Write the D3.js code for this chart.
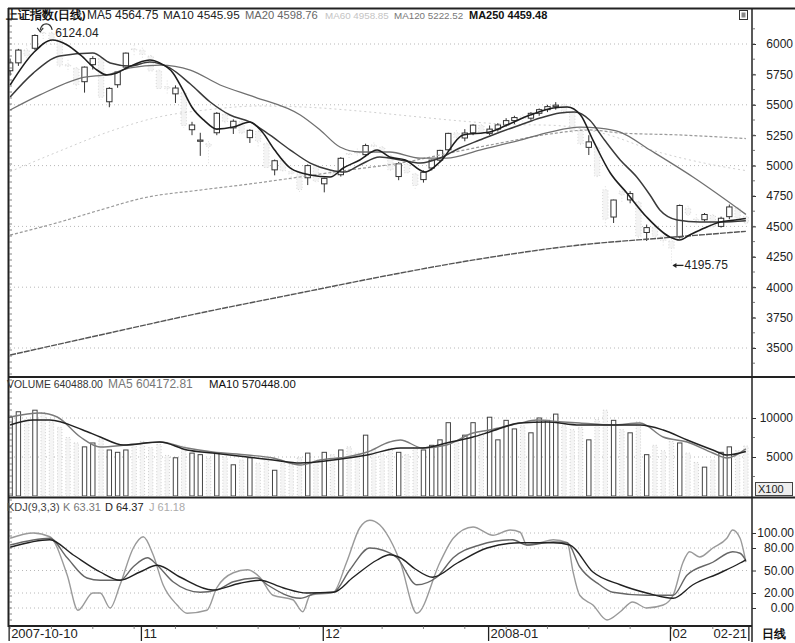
<!DOCTYPE html>
<html><head><meta charset="utf-8">
<script src="https://cdn.jsdelivr.net/npm/d3@7"></script>
<style>
html,body{margin:0;padding:0;background:#fff;}
svg{display:block;font-family:"Liberation Sans",Arial,sans-serif;}
</style></head><body>
<svg id="chart" width="795" height="643"></svg>
<script>
// ---------- DATA ----------
const open  = [5780,5845,5950,5965,6095,6090,6036,5830,5800,5690,5830,5880,5525,5665,5810,5960,5950,5900,5780,5650,5590,5600,5295,5200,5180,5270,5420,5310,5360,5230,5280,5180,4965,5040,4950,4930,4900,5000,4850,4950,4925,5100,5110,5090,5170,5150,5080,4910,5010,4930,4885,4980,5045,5130,5270,5227,5270,5330,5265,5300,5335,5370,5400,5390,5430,5460,5485,5500,5440,5290,5150,5150,4800,4577,4790,4718,4700,4450,4490,4420,4380,4413,4650,4560,4555,4590,4500,4580,4650,4580];
const high  = [5880,5960,5990,6080,6124.04,6100,6040,5870,5810,5815,5900,5890,5645,5775,5930,5990,5970,5910,5790,5700,5660,5610,5360,5270,5200,5440,5430,5380,5370,5300,5290,5190,5050,5060,4990,4940,5010,5010,4900,4960,5070,5120,5140,5180,5190,5160,5090,5030,5020,4940,4960,5050,5130,5270,5290,5300,5340,5340,5330,5350,5390,5410,5420,5440,5470,5500,5522,5510,5450,5300,5250,5160,4830,4720,4810,4790,4710,4515,4500,4450,4400,4680,4670,4600,4610,4600,4580,4680,4660,4600];
const low   = [5740,5820,5880,5950,6040,5980,5800,5770,5620,5600,5790,5540,5480,5640,5800,5900,5880,5760,5620,5580,5515,5310,5250,5080,5020,5250,5330,5260,5250,5186,5150,4970,4920,4940,4880,4780,4840,4860,4780,4890,4910,5050,5080,5070,5120,5080,4950,4880,4920,4810,4860,4960,5030,5120,5190,5200,5250,5240,5250,5280,5320,5340,5350,5370,5410,5440,5460,5420,5270,5160,5087,4900,4500,4528,4700,4690,4400,4380,4380,4330,4195.75,4400,4570,4500,4540,4480,4490,4560,4540,4500];
const close = [5845,5950,5903,6070,6092,6036,5825,5818,5667,5810,5880,5562,5635,5770,5925,5950,5914,5778,5634,5633,5638,5330,5334,5210,5158,5430,5362,5365,5269,5290,5200,4984,5040,4958,4932,4803,5000,4871,4895,4931,5060,5091,5101,5165,5158,5107,4966,5015,4941,4836,4945,5045,5125,5265,5232,5268,5333,5262,5300,5335,5370,5395,5386,5430,5460,5485,5497,5443,5290,5180,5195,4914,4560,4717,4761,4770,4419,4490,4420,4383,4320,4672,4600,4552,4598,4497,4567,4660,4570,4530];
const volume = [10100,10800,9800,11000,10700,9500,8800,7500,6800,6300,6800,7300,5900,5600,5900,6600,7000,6200,6600,5200,4900,6400,5500,5300,4800,5500,5000,4000,4600,4900,4200,5100,3300,4200,4000,4900,5500,4600,5600,5300,5900,6300,5500,7800,6000,5400,6100,5600,5300,6200,5900,6500,7200,9400,7000,7800,9400,8000,10100,7200,9700,8600,9000,8100,10000,9700,10500,9000,8500,8800,7200,9800,11000,9700,8500,8100,9500,5300,6500,5800,7000,6800,5500,4300,3700,4600,5600,6300,5800,6404.88];

// moving-average lines: [day index, value]
const ma5   = [[0,5663],[2.8,5926],[5.1,6033],[6.9,5992],[8.5,5910],[10.5,5786],[11.7,5745],[12.9,5762],[14.1,5803],[16.9,5868],[18.1,5844],[19.7,5762],[20.9,5622],[22,5480],[23.5,5370],[25,5300],[27,5317],[29,5359],[30.5,5276],[32,5128],[33.9,4980],[36.3,4923],[38.7,4906],[40.3,4980],[42.3,5046],[44.4,5128],[45.9,5071],[47.8,5046],[50.2,4947],[52,5030],[54.8,5252],[58,5276],[60.1,5334],[62.9,5416],[65.7,5474],[67.4,5482],[69,5416],[70.5,5210],[72.6,4939],[74.6,4775],[77,4577],[79.8,4413],[81,4388],[82.2,4429],[84,4487],[85.9,4536],[87.7,4553],[89,4564.75]];
const ma10  = [[0,5564],[2.8,5761],[6,5901],[10,5926],[12.1,5844],[14.5,5819],[16.9,5852],[19.3,5803],[21.8,5671],[24.2,5523],[26.6,5416],[29,5359],[31.4,5252],[33.9,5128],[36.3,5021],[38.7,4964],[40.5,4947],[42.3,5005],[44.7,5071],[47.2,5046],[49.6,5021],[52,5062],[54.4,5145],[56.8,5210],[59.3,5276],[61.7,5334],[64.1,5391],[66.5,5433],[68.3,5441],[70.1,5375],[71.9,5210],[73.8,5046],[75.8,4906],[77.4,4758],[78.6,4635],[80.7,4553],[83.4,4536],[85.9,4536],[89,4545.95]];
const ma20  = [[0,5457],[3.6,5581],[8.5,5720],[12.1,5753],[14.5,5803],[18.1,5827],[21.8,5786],[25.4,5663],[29.6,5564],[35.1,5416],[37.5,5293],[39.9,5153],[42.3,5112],[45.9,5112],[49.6,5062],[52.8,5062],[56.8,5128],[61.7,5210],[65.3,5276],[68.9,5317],[71.3,5309],[73.8,5276],[77.4,5128],[82.6,4906],[89,4598.76]];
const ma60  = [[0,4950],[6,5120],[12,5280],[18,5400],[24,5460],[30,5490],[36,5480],[42,5450],[48,5410],[54,5370],[60,5340],[66,5330],[72,5260],[78,5120],[84,5020],[89,4958.85]];
const ma120 = [[0,4429],[6,4536],[10.9,4635],[16.1,4734],[23,4799],[29,4849],[35,4906],[41,4964],[47.2,5021],[53.2,5104],[59.3,5186],[65.3,5260],[70.1,5293],[73.8,5268],[81,5252],[89,5222.52]];
const ma250 = [[0,3442],[10.9,3607],[23,3788],[35,3952],[44.7,4084],[56.8,4232],[68.9,4347],[79,4405],[89,4459.48]];

const volMa5  = [[0,10128],[3.6,10641],[5.7,10128],[8.5,7564],[10.9,6282],[14.1,6538],[18.1,6923],[21.4,6154],[24.5,5641],[28.7,5256],[31.8,4872],[35.1,3974],[37.5,4615],[40.7,5000],[43.2,5641],[45.9,6923],[47.2,7179],[49.9,6154],[52.8,6538],[56,8077],[58,8462],[61.7,9359],[63.7,9744],[66.9,9487],[68.9,9359],[72.9,9103],[76.2,9359],[79,7564],[81.9,6923],[85,5513],[86.7,4872],[89,6041.73]];
const volMa10 = [[0,9103],[2.8,9744],[4.8,9744],[8.8,8462],[10.9,7564],[13.7,6538],[18.1,6923],[21.4,5897],[24.5,5513],[28.7,5000],[31.8,4615],[35.1,4231],[39.1,4615],[43.2,5256],[47.2,6154],[49.9,6154],[52.8,6795],[56,7564],[58,8205],[61.7,9359],[64.9,9487],[68.9,9103],[72.9,9103],[76.2,9103],[79,8462],[81.9,7179],[85,5897],[86.7,5256],[89,5704.48]];

const kdjK = [[0,84],[4.8,93],[6.9,67],[9.3,40],[10.9,37],[13.3,37],[14.9,55],[16.6,67],[17.8,57],[19.7,35],[23,21],[25,24],[27,35],[29.9,40],[31.1,31],[35.1,13],[37.1,20],[39.1,21],[41.1,51],[43.5,80],[45.1,77],[46.8,67],[49.2,31],[51.6,41],[53.6,67],[56.8,84],[60.8,91],[62.5,84],[65.7,88],[67.4,87],[68.9,55],[71.3,31],[72.9,21],[77,17],[80.2,17],[81.9,44],[85,61],[87.4,75],[88.3,73],[89,63.31]];
const kdjD = [[0,81],[4.8,91],[7.6,71],[10.9,48],[13.3,37],[15.7,48],[17.8,57],[20.6,41],[24.5,24],[27.8,33],[30.2,37],[33,27],[35.9,20],[39.1,21],[41.5,41],[44.4,64],[45.9,71],[47.2,67],[49,52],[51.1,41],[54.1,60],[57.7,80],[61.7,87],[65.7,87],[67.7,84],[70.5,48],[73.8,31],[77,20],[80.2,13],[82.6,31],[85.9,47],[88.3,60],[89,64.37]];
const kdjJ = [[0,93],[2.8,100],[4.8,95],[6.9,44],[8.2,-3],[10,20],[10.9,20],[12.1,0],[13.3,31],[14.9,80],[16.1,95],[17.3,71],[18.5,31],[20.2,4],[21.4,-7],[23.8,-3],[25,27],[27,47],[28.7,51],[30.2,41],[31.8,17],[34.2,11],[35.4,-5],[36.3,17],[39.1,21],[40.7,61],[42.3,107],[43.5,117],[44.7,111],[46.3,84],[47.2,61],[49.2,-7],[52,61],[53.6,93],[56,108],[58.4,97],[60.5,104],[61.7,101],[62.5,84],[64.1,87],[65.7,91],[67.4,87],[68.1,48],[68.9,17],[70.5,4],[72.2,-16],[73.8,-5],[75.3,8],[77,0],[79,4],[80.2,17],[81.4,61],[82.2,75],[83.4,68],[85,80],[86.7,93],[87.4,104],[88.3,93],[89,61.18]];

const priceTicks = [3500,3750,4000,4250,4500,4750,5000,5250,5500,5750,6000];
const volTicks = [5000,10000];
const kdjTicks = [0,20,50,80,100];
const xTickIdx = [0,16,38,58,80,89];
const xTickLabels = ["2007-10-10","11","12","2008-01","02","02-21"];

// ---------- LAYOUT ----------
const svg = d3.select("#chart");
const n = close.length;
const x = d3.scaleBand().domain(d3.range(n)).range([6,750]).paddingInner(0.35).paddingOuter(0.175);
const bw = x.bandwidth();
const xi = d3.scaleLinear().domain([0,n-1]).range([x(0)+bw/2, x(n-1)+bw/2]);
const yP = d3.scaleLinear().domain([3500,6000]).range([348,44]);
const yV = d3.scaleLinear().domain([0,10000]).range([496,418]);
const yK = d3.scaleLinear().domain([0,100]).range([608,533]);

const defs = svg.append("defs");
defs.append("clipPath").attr("id","cP").append("rect").attr("x",9).attr("y",22).attr("width",743).attr("height",354);
defs.append("clipPath").attr("id","cV").append("rect").attr("x",9).attr("y",392).attr("width",743).attr("height",104);
defs.append("clipPath").attr("id","cK").append("rect").attr("x",9).attr("y",513).attr("width",743).attr("height",112);

// grid (dotted)
function grid(vals, sc){
  svg.append("g").selectAll("line").data(vals).join("line")
    .attr("x1",10).attr("x2",750).attr("y1",d=>sc(d)).attr("y2",d=>sc(d))
    .attr("stroke","#b8b8b8").attr("stroke-width",1).attr("stroke-dasharray","1,3");
}
grid([3500,4000,4500,5000,5500,6000], yP);
grid(volTicks, yV);
grid(kdjTicks, yK);

// ---------- CANDLES ----------
const gC = svg.append("g").attr("clip-path","url(#cP)");
const idx = d3.range(n);
const isUp = i => close[i] >= open[i];
gC.selectAll("line.w").data(idx).join("line")
  .attr("x1",i=>xi(i)).attr("x2",i=>xi(i))
  .attr("y1",i=>yP(high[i])).attr("y2",i=>yP(low[i]))
  .attr("stroke",i=>isUp(i)?"#333":"#dedede").attr("stroke-width",1)
  .attr("stroke-dasharray",i=>isUp(i)?null:"1,2");
gC.selectAll("rect.b").data(idx).join("rect")
  .attr("x",i=>x(i)).attr("width",bw)
  .attr("y",i=>yP(Math.max(open[i],close[i])))
  .attr("height",i=>Math.max(1,Math.abs(yP(open[i])-yP(close[i]))))
  .attr("fill",i=>isUp(i)?"#fff":"#f4f4f4")
  .attr("stroke",i=>isUp(i)?"#333":"#d8d8d8")
  .attr("stroke-dasharray",i=>isUp(i)?null:"1,2")
  .attr("stroke-width",1);

// ---------- MA LINES ----------
const lineP = d3.line().x(d=>xi(d[0])).y(d=>yP(d[1])).curve(d3.curveMonotoneX);
const gL = svg.append("g").attr("clip-path","url(#cP)").attr("fill","none");
gL.append("path").attr("d",lineP(ma250)).attr("stroke","#555").attr("stroke-width",1.4).attr("stroke-dasharray","6,1");
gL.append("path").attr("d",lineP(ma120)).attr("stroke","#9a9a9a").attr("stroke-width",1.2).attr("stroke-dasharray","3,2");
gL.append("path").attr("d",lineP(ma60)).attr("stroke","#d0d0d0").attr("stroke-width",1).attr("stroke-dasharray","2,3");
gL.append("path").attr("d",lineP(ma20)).attr("stroke","#707070").attr("stroke-width",1.3);
gL.append("path").attr("d",lineP(ma10)).attr("stroke","#3a3a3a").attr("stroke-width",1.5);
gL.append("path").attr("d",lineP(ma5)).attr("stroke","#1e1e1e").attr("stroke-width",1.6);

// high / low markers
const hx = xi(4), hy = yP(6124.04);
svg.append("path").attr("d",`M${hx+9},${hy+1} C${hx+7},${hy-7} ${hx-1},${hy-7} ${hx-3},${hy+1}`)
  .attr("fill","none").attr("stroke","#333").attr("stroke-width",1.2);
svg.append("path").attr("d",`M${hx-6},${hy-1} L${hx-3},${hy+3} L${hx},${hy-1}`).attr("fill","none").attr("stroke","#333").attr("stroke-width",1.1);
svg.append("text").attr("x",hx+12).attr("y",hy+8).attr("font-size",12).attr("fill","#222").text("6124.04");
const lx = xi(80), ly = yP(4195.75);
svg.append("line").attr("x1",lx+2).attr("x2",lx+12).attr("y1",ly+2).attr("y2",ly+2).attr("stroke","#222").attr("stroke-width",1.3);
svg.append("path").attr("d",`M${lx+1},${ly+2} L${lx+5},${ly-0.5} L${lx+5},${ly+4.5} Z`).attr("fill","#222");
svg.append("text").attr("x",lx+13).attr("y",ly+6).attr("font-size",12).attr("fill","#222").text("4195.75");

// ---------- VOLUME ----------
const gVb = svg.append("g").attr("clip-path","url(#cV)");
gVb.selectAll("rect").data(idx).join("rect")
  .attr("x",i=>x(i)+0.5).attr("width",bw-1)
  .attr("y",i=>yV(volume[i])).attr("height",i=>yV(0)-yV(volume[i]))
  .attr("fill",i=>isUp(i)?"#fff":"#f5f5f5")
  .attr("stroke",i=>isUp(i)?"#444":"#cfcfcf")
  .attr("stroke-dasharray",i=>isUp(i)?null:"1,2")
  .attr("stroke-width",1);
const lineV = d3.line().x(d=>xi(d[0])).y(d=>yV(d[1])).curve(d3.curveMonotoneX);
const gVl = svg.append("g").attr("clip-path","url(#cV)").attr("fill","none");
gVl.append("path").attr("d",lineV(volMa5)).attr("stroke","#7a7a7a").attr("stroke-width",1.4);
gVl.append("path").attr("d",lineV(volMa10)).attr("stroke","#222").attr("stroke-width",1.5);

// ---------- KDJ ----------
const lineK = d3.line().x(d=>xi(d[0])).y(d=>yK(d[1])).curve(d3.curveMonotoneX);
const gK = svg.append("g").attr("clip-path","url(#cK)").attr("fill","none");
gK.append("path").attr("d",lineK(kdjJ)).attr("stroke","#9a9a9a").attr("stroke-width",1.4);
gK.append("path").attr("d",lineK(kdjK)).attr("stroke","#666").attr("stroke-width",1.4);
gK.append("path").attr("d",lineK(kdjD)).attr("stroke","#222").attr("stroke-width",1.4);

// ---------- FRAME ----------
const frame = svg.append("g").attr("stroke","#222").attr("fill","none");
frame.append("line").attr("x1",8).attr("x2",795).attr("y1",8.5).attr("y2",8.5).attr("stroke-width",2);
frame.append("line").attr("x1",8.5).attr("x2",8.5).attr("y1",8).attr("y2",627).attr("stroke-width",2);
frame.append("line").attr("x1",752).attr("x2",752).attr("y1",8).attr("y2",642).attr("stroke-width",1.5);
frame.append("line").attr("x1",8).attr("x2",795).attr("y1",377).attr("y2",377).attr("stroke-width",2);
frame.append("line").attr("x1",8).attr("x2",795).attr("y1",497.5).attr("y2",497.5).attr("stroke-width",2);
frame.append("line").attr("x1",8).attr("x2",752).attr("y1",626).attr("y2",626).attr("stroke-width",2);
frame.append("g").selectAll("line").data(d3.range(14,626,6)).join("line")
  .attr("x1",9).attr("x2",12).attr("y1",d=>d).attr("y2",d=>d).attr("stroke","#666").attr("stroke-width",0.8);
frame.append("g").selectAll("line").data(d3.range(0,n,5)).join("line")
  .attr("x1",d=>xi(d)).attr("x2",d=>xi(d)).attr("y1",626).attr("y2",629).attr("stroke","#666").attr("stroke-width",0.8);

// ---------- AXES ----------
function rightAxis(sc, vals, fmt, endX, minor){
  const g = svg.append("g").attr("transform","translate(752,0)")
    .call(d3.axisRight(sc).tickValues(vals).tickFormat(fmt).tickSize(4).tickPadding(3));
  g.select(".domain").remove();
  g.selectAll("text").attr("x",endX-752).attr("text-anchor","end")
    .attr("font-family","Liberation Sans").attr("font-size",12).attr("fill","#222");
  g.selectAll("line").attr("stroke","#333");
  if(minor){
    svg.append("g").selectAll("line").data(minor).join("line")
      .attr("x1",752).attr("x2",755).attr("y1",d=>sc(d)).attr("y2",d=>sc(d)).attr("stroke","#555").attr("stroke-width",0.8);
  }
}
rightAxis(yP, priceTicks, d3.format("d"), 793, d3.range(3375,6150,125));
rightAxis(yV, volTicks, d3.format("d"), 793, [2500,7500]);
rightAxis(yK, kdjTicks, d3.format(".2f"), 794, null);

// x axis labels
const gx = svg.append("g").attr("font-size",13).attr("fill","#222");
xTickIdx.forEach((d,k)=>{
  const last = k===xTickIdx.length-1;
  const tx = last ? xi(d)+3 : xi(d)-1;
  gx.append("line").attr("x1",tx).attr("x2",tx).attr("y1",626).attr("y2",641).attr("stroke","#222").attr("stroke-width",1.3);
  gx.append("text").attr("x",last?tx-2:tx+2).attr("y",638).attr("text-anchor",last?"end":"start").text(xTickLabels[k]);
});
svg.append("text").attr("x",762).attr("y",638).attr("font-size",12).attr("font-weight","bold").attr("fill","#111").text("日线");

// ---------- TITLES ----------
function label(xp, yp, txt, col, size, bold){
  svg.append("text").attr("x",xp).attr("y",yp).attr("font-size",size)
    .attr("font-weight",bold?"bold":"normal").attr("fill",col).text(txt);
}
label(6,19,"上证指数(日线)","#111",11.5,true);
label(87,19,"MA5 4564.75","#222",12);
label(163,19,"MA10 4545.95","#222",11.8);
label(245,19,"MA20 4598.76","#666",11.2);
label(325,19,"MA60 4958.85","#c4c4c4",9.8);
label(394,19,"MA120 5222.52","#777",9.8);
label(469,19,"MA250 4459.48","#111",11,true);
label(7,388,"VOLUME 640488.00","#333",10.4);
label(108,388,"MA5 604172.81","#777",12);
label(209,388,"MA10 570448.00","#111",11.4);
label(7,511,"KDJ(9,3,3)","#444",11);
label(63,511,"K 63.31","#777",11);
label(105,511,"D 64.37","#222",11);
label(149,511,"J 61.18","#aaa",11);

// small icon & X100 box
svg.append("rect").attr("x",739.5).attr("y",10.5).attr("width",8).attr("height",9).attr("fill","none").attr("stroke","#333");
svg.append("rect").attr("x",741.5).attr("y",12.5).attr("width",4).attr("height",5).attr("fill","#888");
svg.append("rect").attr("x",755.5).attr("y",482.5).attr("width",37).attr("height",13).attr("fill","#eee").attr("stroke","#444");
svg.append("text").attr("x",758).attr("y",493).attr("font-size",11).attr("fill","#222").text("X100");
</script>
</body></html>
